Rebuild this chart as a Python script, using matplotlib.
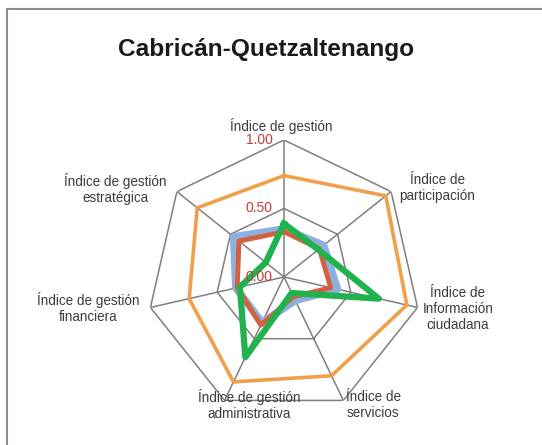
import numpy as np
import matplotlib.pyplot as plt
from matplotlib.patches import Rectangle

plt.rcParams['font.family'] = ['Liberation Sans', 'DejaVu Sans']

# ejes del radar
labels = ['Índice de gestión', 'Índice de\nparticipación', 'Índice de\nInformación\nciudadana',
          'Índice de\nservicios', 'Índice de gestión\nadministrativa',
          'Índice de gestión\nfinanciera', 'Índice de gestión\nestratégica']
ring_levels = [0.5, 1.0]
tick_labels = ['0.00', '0.50', '1.00']

# series
serie_azul = [0.35, 0.37, 0.40, 0.19, 0.37, 0.36, 0.47]
serie_roja = [0.33, 0.33, 0.35, 0.16, 0.39, 0.35, 0.42]
serie_naranja = [0.74, 0.95, 0.92, 0.80, 0.85, 0.71, 0.81]
serie_verde = [0.39, 0.32, 0.71, 0.13, 0.65, 0.33, 0.17]

n = len(labels)
theta = np.arange(n) * 2 * np.pi / n
theta_c = np.append(theta, theta[0])

def closed(v):
    return np.append(v, v[0])

fig = plt.figure(figsize=(5.42, 4.45), dpi=100)
fig.patches.append(Rectangle((7 / 542, -0.1), 1.2, 1.1 - 9 / 445, transform=fig.transFigure,
                             fill=False, edgecolor='#8c8c8c', linewidth=1.5))

ax = fig.add_axes([0.2712, 0.0697, 0.5055, 0.6157], projection='polar')
ax.set_theta_offset(np.pi / 2)
ax.set_theta_direction(-1)
ax.set_ylim(0, 1)
ax.set_xticks([])
ax.set_yticks([])
ax.grid(False)
ax.spines['polar'].set_visible(False)
ax.patch.set_visible(False)

grid_col = '#7f7f7f'
for lv in ring_levels:
    ax.plot(theta_c, [lv] * (n + 1), color=grid_col, lw=1.1, zorder=1)
for t in theta:
    ax.plot([t, t], [0, 1], color=grid_col, lw=1.1, zorder=1)

ax.plot(theta_c, closed(serie_azul), color='#8db0de', lw=5.5, zorder=2)
ax.plot(theta_c, closed(serie_roja), color='#d3613f', lw=3.5, zorder=3)
ax.plot(theta_c, closed(serie_naranja), color='#f0a04b', lw=2.6, zorder=4)
ax.plot(theta_c, closed(serie_verde), color='#21b24f', lw=4.5, zorder=5)

for lv, tl in zip([0.0, 0.5, 1.0], tick_labels):
    ax.annotate(tl, xy=(0, lv), xytext=(-8, 0), textcoords='offset points',
                ha='right', va='center', color='#c8383d', fontsize=10, zorder=6)

# posiciones de las etiquetas (pixeles de la imagen)
label_pos = [(281, 126), (437, 188), (458, 309), (373, 405), (249, 405), (88, 308), (115, 189)]
for txt, (px, py) in zip(labels, label_pos):
    fig.text(px / 542, 1 - py / 445, txt, ha='center', va='center', fontsize=9.75,
             color='#3c3c3c', linespacing=1.2)

fig.text(266 / 542, 1 - 56 / 445, 'Cabricán-Quetzaltenango', ha='center', va='baseline',
         fontsize=17.6, fontweight='bold', color='#1a1a1a')

fig.savefig('out.png', dpi=100)
